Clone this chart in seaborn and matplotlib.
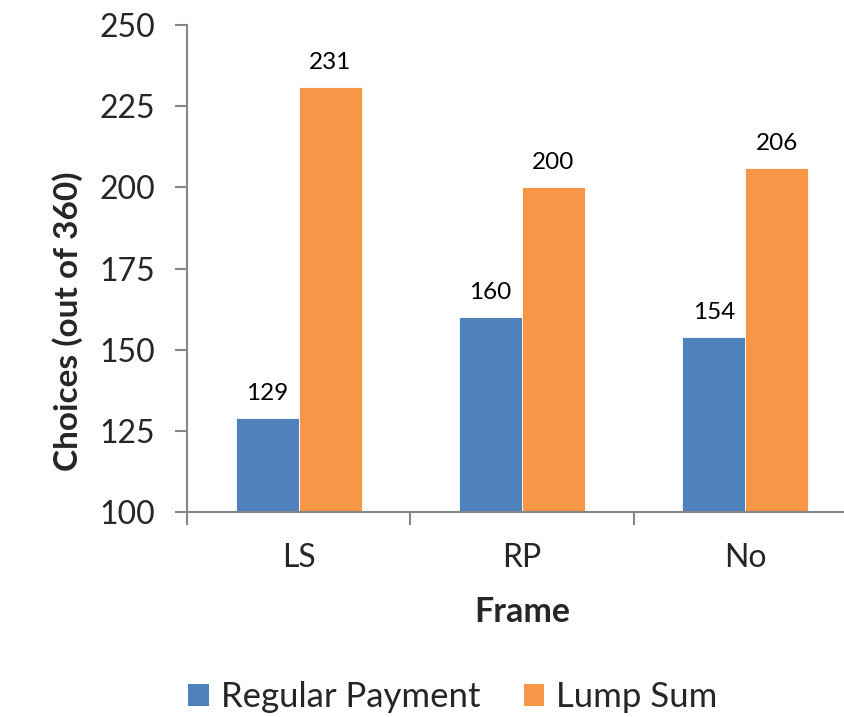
import matplotlib
matplotlib.use("Agg")
import matplotlib.pyplot as plt
import seaborn as sns
import pandas as pd

frames = ["LS", "RP", "No"]
regular_payment = [129, 160, 154]
lump_sum = [231, 200, 206]
series_names = ["Regular Payment", "Lump Sum"]
y_ticks = [100, 125, 150, 175, 200, 225, 250]

df = pd.DataFrame({
    "Frame": frames * 2,
    "Series": [series_names[0]] * 3 + [series_names[1]] * 3,
    "Choices": regular_payment + lump_sum,
})

sns.set_style("white")
plt.rcParams["font.family"] = ["Lato", "DejaVu Sans"]

fig = plt.figure(figsize=(8.44, 7.17), dpi=100)
ax = fig.add_axes([0.2216, 0.2859, 0.7938, 0.6792])

palette = {series_names[0]: "#4F81BD", series_names[1]: "#F79646"}
sns.barplot(data=df, x="Frame", y="Choices", hue="Series", order=frames,
            hue_order=series_names, palette=palette, width=0.565, gap=0,
            edgecolor="white", linewidth=0.6, saturation=1, ax=ax)

# bars start at 100 baseline
for p in ax.patches:
    h = p.get_height()
    if h > 0:
        p.set_y(100)
        p.set_height(h - 100)

ax.set_ylim(100, 250)
ax.set_xlim(-0.5, 2.5)
ax.set_yticks(y_ticks)

for cont, vals in zip(ax.containers, [regular_payment, lump_sum]):
    for bar, v in zip(cont, vals):
        ax.annotate(f"{v}", (bar.get_x() + bar.get_width() / 2, v),
                    xytext=(0, 10), textcoords="offset points",
                    ha="center", va="bottom", fontsize=17.5, color="black")

gray = "#868686"
for s in ["top", "right"]:
    ax.spines[s].set_visible(False)
for s in ["left", "bottom"]:
    ax.spines[s].set_color(gray)
    ax.spines[s].set_linewidth(1.5)

ax.tick_params(axis="y", which="major", direction="out", length=9, width=1.5,
               color=gray, labelsize=23, pad=14, left=True)
ax.set_xticks([0, 1, 2])
ax.set_xticklabels(frames)
ax.tick_params(axis="x", which="major", length=0, labelsize=23, pad=22)
ax.set_xticks([0.5, 1.5, 2.5, -0.5], minor=True)
ax.tick_params(axis="x", which="minor", direction="out", length=9, width=1.5,
               color=gray, bottom=True)

ax.set_xlabel("Frame", fontsize=24.5, fontweight="bold", labelpad=17)
ax.set_ylabel("Choices (out of 360)", fontsize=24, fontweight="bold",
              labelpad=12, y=0.392)

leg = ax.legend(loc="center", bbox_to_anchor=(453 / 844, 1 - 697 / 717),
                bbox_transform=fig.transFigure, ncol=2, frameon=False,
                fontsize=25, handlelength=0.58, handleheight=0.58,
                handletextpad=0.35, columnspacing=1.26, title=None)
for h in leg.legend_handles:
    h.set_edgecolor("none")

fig.savefig("out.png", dpi=100)
